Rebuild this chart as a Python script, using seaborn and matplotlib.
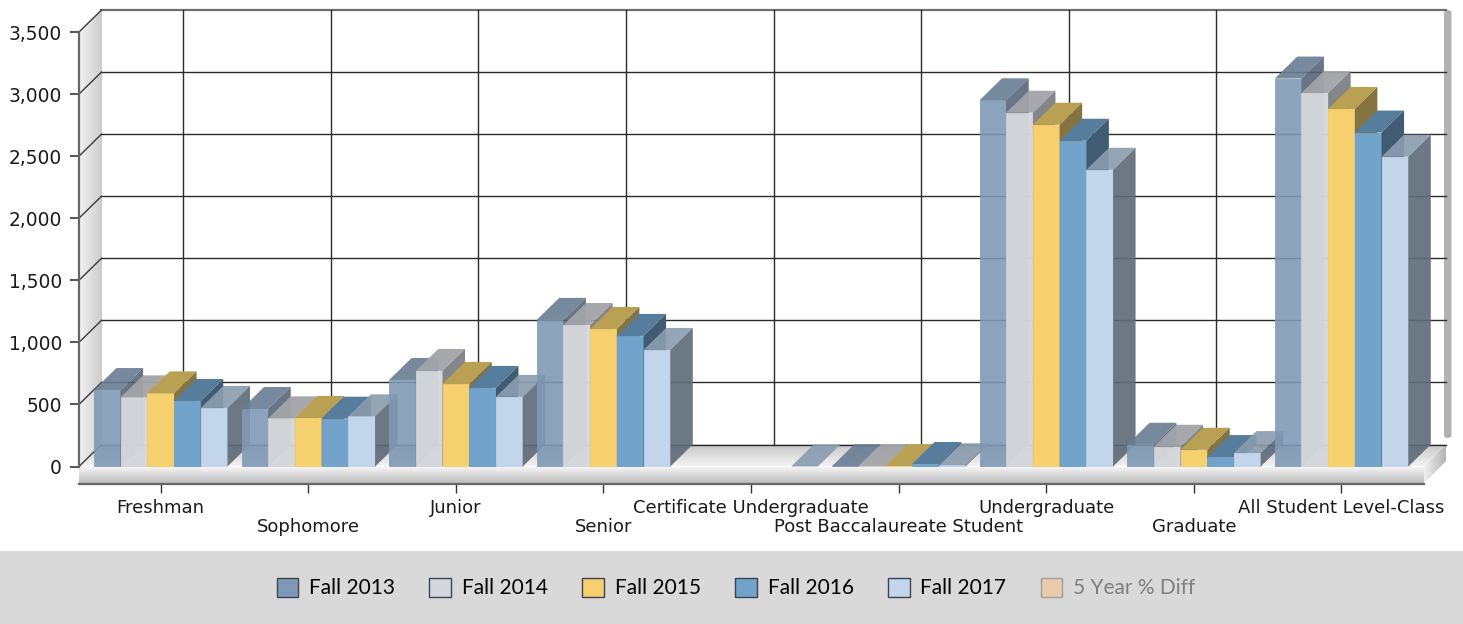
import numpy as np
import pandas as pd
import seaborn as sns
import matplotlib.pyplot as plt
from matplotlib.patches import Patch, Polygon, FancyBboxPatch, Rectangle

plt.rcParams['font.family'] = 'DejaVu Sans'

categories = ['Freshman', 'Sophomore', 'Junior', 'Senior', 'Certificate Undergraduate',
              'Post Baccalaureate Student', 'Undergraduate', 'Graduate', 'All Student Level-Class']
fall_2013 = [616, 463, 697, 1181, np.nan, 2, 2950, 175, 3125]
fall_2014 = [557, 388, 770, 1140, np.nan, 2, 2850, 159, 3008]
fall_2015 = [589, 391, 665, 1108, np.nan, 3, 2753, 135, 2880]
fall_2016 = [528, 385, 633, 1052, np.nan, 20, 2624, 76, 2690]
fall_2017 = [472, 404, 561, 939, 0, 10, 2390, 108, 2495]
series_names = ['Fall 2013', 'Fall 2014', 'Fall 2015', 'Fall 2016', 'Fall 2017']
y_ticks = [0, 500, 1000, 1500, 2000, 2500, 3000, 3500]

front_colors = ['#7F99B4', '#D4D7DB', '#F5D06D', '#72A4CB', '#C3D5EB']
top_colors = ['#687C93', '#A2A4A8', '#BAA053', '#567D9C', '#8B9DB0']
side_colors = ['#566679', '#7D8084', '#857340', '#405B72', '#5F6C78']
front_alpha = [0.9, 0.97, 1, 1, 1]
depth_alpha = [0.9, 0.95, 1, 1, 0.92]

df = pd.DataFrame({'category': categories, 'Fall 2013': fall_2013, 'Fall 2014': fall_2014,
                   'Fall 2015': fall_2015, 'Fall 2016': fall_2016, 'Fall 2017': fall_2017})
df = df.melt(id_vars='category', var_name='term', value_name='students')

fig = plt.figure(figsize=(14.63, 6.24), dpi=100, facecolor='white')

# pixel-space layer for the chart box: walls, floor and legend band
bg = fig.add_axes([0, 0, 1, 1], zorder=0)
bg.set_xlim(0, 1463)
bg.set_ylim(624, 0)
bg.axis('off')


def gradient(points, start, end, horizontal=False):
    xs = [p[0] for p in points]
    ys = [p[1] for p in points]
    ramp = np.linspace(start, end, 64)
    ramp = ramp.reshape(1, -1) if horizontal else ramp.reshape(-1, 1)
    im = bg.imshow(ramp, cmap='gray', vmin=0, vmax=1, aspect='auto', interpolation='bilinear',
                   extent=(min(xs), max(xs), max(ys), min(ys)), zorder=1)
    poly = Polygon(points, closed=True, transform=bg.transData, fill=False, lw=0)
    bg.add_patch(poly)
    im.set_clip_path(poly)
    bg.set_xlim(0, 1463)
    bg.set_ylim(624, 0)


bg.add_patch(Rectangle((0, 551), 1463, 73, color='#D9D9D9', lw=0))
bg.add_patch(FancyBboxPatch((1444, 10), 7.5, 428, boxstyle='round,pad=0,rounding_size=3.5',
                            fc='#B0B3B1', ec='none', lw=0, zorder=1))
gradient([(79, 32), (102, 10), (102, 444.5), (79, 466.5)], 0.95, 0.80, horizontal=True)
gradient([(79, 466.5), (102, 444.5), (1446, 444.5), (1424, 466.5)], 0.78, 0.95)
gradient([(79, 466.5), (1424, 466.5), (1424, 483.5), (79, 483.5)], 0.97, 0.74)
gradient([(1424, 466.5), (1446, 444.5), (1446, 461), (1424, 483.5)], 0.94, 0.70, horizontal=True)

# main axes, front plane of the 3D box
ax = fig.add_axes([79 / 1463, (624 - 466.5) / 624, 1345 / 1463, 434.5 / 624], zorder=1)
ax.patch.set_visible(False)
sns.barplot(data=df, x='category', y='students', hue='term', hue_order=series_names,
            palette=front_colors, width=0.905, gap=0, saturation=1, errorbar=None,
            legend=False, ax=ax)
ax.set_xlim(-0.5535, 8.559)
ax.set_ylim(0, 3500)

# depth of the box in data units
dx = 22.5 / 147.6
dy = 22 / (434.5 / 3500)

for i, container in enumerate(ax.containers):
    for bar in container:
        x0 = bar.get_x()
        x1 = x0 + bar.get_width()
        h = bar.get_height()
        z = 3 + x0 * 0.1
        bar.set_zorder(z)
        bar.set_alpha(front_alpha[i])
        bar.set_edgecolor(front_colors[i])
        bar.set_linewidth(0.6)
        ax.add_patch(Polygon([(x0, h), (x1, h), (x1 + dx, h + dy), (x0 + dx, h + dy)], closed=True,
                             fc=top_colors[i], ec='none', alpha=depth_alpha[i], zorder=z, clip_on=False))
        ax.add_patch(Polygon([(x1, 0), (x1 + dx, dy), (x1 + dx, h + dy), (x1, h)], closed=True,
                             fc=side_colors[i], ec='none', alpha=depth_alpha[i], zorder=z, clip_on=False))

# back wall grid and the diagonals on the left wall
xmin, xmax = ax.get_xlim()
for y in y_ticks:
    lw = 1.6 if y == 3500 else 1.0
    col = '#6E6E6E' if y == 3500 else '#2B2B2B'
    ax.plot([xmin + dx, xmax + dx], [y + dy, y + dy], color=col, lw=lw, clip_on=False, zorder=2)
    ax.plot([xmin, xmin + dx], [y, y + dy], color='#3A3A3A', lw=1.0, clip_on=False, zorder=2)
for x in range(len(categories) - 1):
    ax.plot([x + dx, x + dx], [dy, 3500 + dy], color='#2B2B2B', lw=1.0, clip_on=False, zorder=2)

ax.spines['top'].set_visible(False)
ax.spines['right'].set_visible(False)
ax.spines['left'].set_color('#666666')
ax.spines['left'].set_linewidth(1.6)
ax.spines['bottom'].set_color('#666666')
ax.spines['bottom'].set_linewidth(1.6)
ax.spines['bottom'].set_position(('outward', 12.6))

ax.set_xlabel('')
ax.set_ylabel('')
ax.set_yticks(y_ticks)
ax.set_yticklabels([f'{y:,}' for y in y_ticks])
ax.tick_params(axis='y', length=6.5, width=1.4, color='#555555', pad=5.8, labelsize=13.4,
               labelcolor='#1A1A1A', labelfontfamily='DejaVu Sans')
ax.tick_params(axis='x', length=6.5, width=1.0, color='#333333', pad=4.3, labelsize=13,
               labelcolor='#1A1A1A', labelfontfamily='DejaVu Sans')
for i, tick in enumerate(ax.xaxis.get_major_ticks()):
    if i % 2 == 1:
        tick.set_pad(18)

handles = [Patch(fc=c, ec='#3A4450', lw=1.0) for c in front_colors]
handles.append(Patch(fc='#E8CBA8', ec='#A0A0A0', lw=1.0))
leg = fig.legend(handles, series_names + ['5 Year % Diff'], ncol=6, loc='center',
                 bbox_to_anchor=(736 / 1463, 1 - 588 / 624), frameon=False,
                 prop={'family': 'Lato', 'size': 15}, handlelength=1.03, handleheight=1.05,
                 handletextpad=0.52, columnspacing=1.66, borderpad=0, borderaxespad=0)
leg.get_texts()[-1].set_color('#7F7F7F')

plt.savefig('out.png', dpi=100)
